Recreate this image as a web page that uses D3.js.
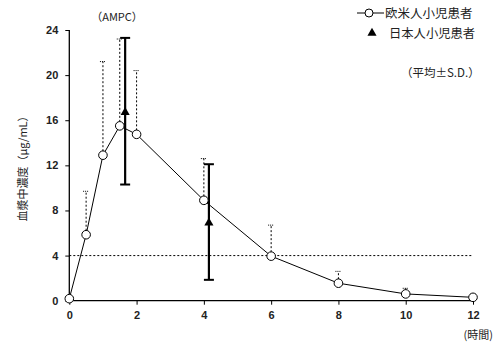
<!DOCTYPE html>
<html>
<head>
<meta charset="utf-8">
<script src="https://cdn.jsdelivr.net/npm/d3@7"></script>
<style>
  body { margin: 0; background: #fff; }
  text { font-family: "Liberation Sans", "Noto Sans CJK JP", sans-serif; fill: #222; }
  .jp { font-family: "Noto Sans CJK JP", sans-serif; }
</style>
</head>
<body>
<div id="chart-area"></div>
<script>
// western pediatric patients (mean, upper SD)
let timesW = [0, 0.5, 1, 1.5, 2, 4, 6, 8, 10, 12];
let meanW = [0.18, 5.85, 12.9, 15.5, 14.75, 8.9, 3.95, 1.55, 0.6, 0.3];
let upperW = [null, 9.7, 21.2, 23.2, 20.4, 12.6, 6.7, 2.6, 1.1, null];

// japanese pediatric patients
let timesJ = [1.66, 4.15];
let meanJ = [16.7, 6.9];
let upperJ = [23.3, 12.1];
let lowerJ = [10.3, 1.85];

let xTicks = [0, 2, 4, 6, 8, 10, 12];
let yTicks = [0, 4, 8, 12, 16, 20, 24];
let refLevel = 4;

let margin = { left: 69.3, right: 22, top: 30, bottom: 41.3 };
let svgW = 495;
let svgH = 342;
let chartW = svgW - margin.left - margin.right;
let chartH = svgH - margin.top - margin.bottom;

let x = d3.scaleLinear().domain([0, 12]).range([0, chartW]);
let y = d3.scaleLinear().domain([0, 24]).range([chartH, 0]);

let svg = d3.select("#chart-area").append("svg")
  .attr("width", svgW)
  .attr("height", svgH);

let g = svg.append("g")
  .attr("transform", `translate(${margin.left},${margin.top})`);

// reference line at 4
g.append("line")
  .attr("x1", x(0)).attr("x2", x(12))
  .attr("y1", y(refLevel)).attr("y2", y(refLevel))
  .attr("stroke", "#000").attr("stroke-width", 1)
  .attr("stroke-dasharray", "2,2");

// axes
let xAxis = g.append("g")
  .attr("transform", `translate(0,${chartH})`)
  .call(d3.axisBottom(x).tickValues(xTicks).tickSize(4).tickPadding(7));
let yAxis = g.append("g")
  .call(d3.axisLeft(y).tickValues(yTicks).tickSize(4).tickPadding(7));

[xAxis, yAxis].forEach(a => {
  a.select(".domain").attr("stroke", "#000").attr("stroke-width", 1.3);
  a.selectAll(".tick line").attr("stroke", "#000").attr("stroke-width", 1);
  a.selectAll(".tick text")
    .style("font-family", "Liberation Sans, sans-serif")
    .style("font-size", "11px").style("font-weight", "bold")
    .attr("fill", "#333");
});
xAxis.select(".domain").attr("d", `M0,0H${chartW}`);
yAxis.select(".domain").attr("d", `M0,${chartH}V0`);

// western error bars (upper, dotted)
let westErr = timesW.map((t, i) => ({ t: t, m: meanW[i], u: upperW[i] })).filter(d => d.u != null);
g.selectAll(".werr").data(westErr).enter().append("line")
  .attr("x1", d => x(d.t)).attr("x2", d => x(d.t))
  .attr("y1", d => y(d.m)).attr("y2", d => y(d.u))
  .attr("stroke", "#000").attr("stroke-width", 1)
  .attr("stroke-dasharray", "2,2");
g.selectAll(".wcap").data(westErr).enter().append("line")
  .attr("x1", d => x(d.t) - 3).attr("x2", d => x(d.t) + 3)
  .attr("y1", d => y(d.u)).attr("y2", d => y(d.u))
  .attr("stroke", "#000").attr("stroke-width", 1)
  .attr("stroke-dasharray", "1,1");

// western line
let line = d3.line().x(d => x(d[0])).y(d => y(d[1]));
g.append("path")
  .datum(timesW.map((t, i) => [t, meanW[i]]))
  .attr("d", line)
  .attr("fill", "none").attr("stroke", "#000").attr("stroke-width", 1);

// japanese error bars
let jp = timesJ.map((t, i) => ({ t: t, m: meanJ[i], u: upperJ[i], l: lowerJ[i] }));
g.selectAll(".jerr").data(jp).enter().append("line")
  .attr("x1", d => x(d.t)).attr("x2", d => x(d.t))
  .attr("y1", d => y(d.l)).attr("y2", d => y(d.u))
  .attr("stroke", "#000").attr("stroke-width", 2.2);
jp.forEach(d => {
  [d.u, d.l].forEach(v => {
    g.append("line")
      .attr("x1", x(d.t) - 5).attr("x2", x(d.t) + 5)
      .attr("y1", y(v)).attr("y2", y(v))
      .attr("stroke", "#000").attr("stroke-width", 2);
  });
});

// markers
g.selectAll(".wpt").data(timesW).enter().append("circle")
  .attr("cx", d => x(d)).attr("cy", (d, i) => y(meanW[i]))
  .attr("r", 4.3)
  .attr("fill", "#fff").attr("stroke", "#000").attr("stroke-width", 1);

let tri = d3.symbol().type(d3.symbolTriangle).size(36);
g.selectAll(".jpt").data(jp).enter().append("path")
  .attr("d", tri)
  .attr("transform", d => `translate(${x(d.t)},${y(d.m)})`)
  .attr("fill", "#000");

// titles
svg.append("text").attr("class", "jp")
  .attr("x", 117).attr("y", 21).attr("text-anchor", "middle")
  .style("font-size", "11px").text("（AMPC）");

svg.append("text").attr("class", "jp")
  .attr("transform", "translate(27,166) rotate(-90)")
  .attr("text-anchor", "middle")
  .style("font-size", "11px").text("血漿中濃度（μg/mL）");

svg.append("text").attr("class", "jp")
  .attr("x", 493).attr("y", 339).attr("text-anchor", "end")
  .style("font-size", "11px").text("(時間)");

// legend
let lg = svg.append("g");
lg.append("line").attr("x1", 357).attr("x2", 384).attr("y1", 13).attr("y2", 13)
  .attr("stroke", "#000").attr("stroke-width", 1);
lg.append("circle").attr("cx", 369).attr("cy", 13).attr("r", 4)
  .attr("fill", "#fff").attr("stroke", "#000");
lg.append("text").attr("class", "jp").attr("x", 385).attr("y", 18)
  .style("font-size", "12.5px").text("欧米人小児患者");
lg.append("path").attr("d", tri)
  .attr("transform", "translate(372,33)").attr("fill", "#000");
lg.append("text").attr("class", "jp").attr("x", 389).attr("y", 38)
  .style("font-size", "12.3px").text("日本人小児患者");
lg.append("text").attr("class", "jp").attr("x", 401).attr("y", 77)
  .style("font-size", "11.5px").text("（平均±S.D.）");
</script>
</body>
</html>
